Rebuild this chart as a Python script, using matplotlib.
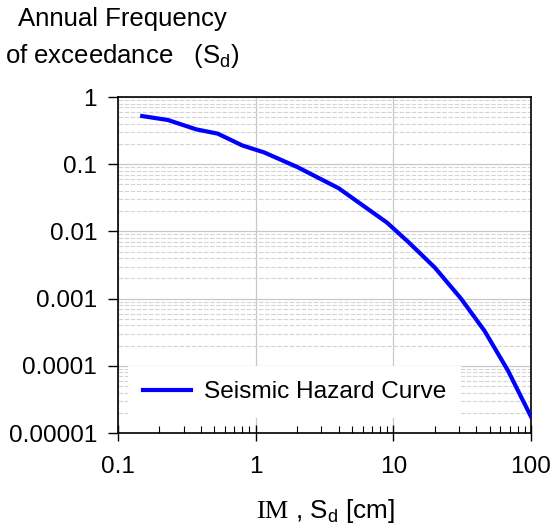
import matplotlib
matplotlib.use('Agg')
import matplotlib.pyplot as plt
from matplotlib.ticker import FixedLocator, FixedFormatter, LogLocator, NullFormatter

plt.rcParams['font.family'] = ['Liberation Sans', 'DejaVu Sans']
plt.rcParams['mathtext.fontset'] = 'custom'
plt.rcParams['mathtext.rm'] = 'Liberation Sans'
plt.rcParams['mathtext.sf'] = 'Liberation Sans'

# hazard curve
sd_cm = [0.15, 0.23, 0.37, 0.53, 0.8, 1.15, 2, 4, 9, 13, 20, 31, 46, 68, 100]
freq = [0.52, 0.455, 0.33, 0.285, 0.19, 0.15, 0.091, 0.044, 0.0135, 0.0068,
        0.0029, 0.001, 0.00033, 8.5e-5, 1.75e-5]

x_ticks = [0.1, 1, 10, 100]
x_labels = ['0.1', '1', '10', '100']
y_ticks = [1e-5, 1e-4, 1e-3, 1e-2, 1e-1, 1]
y_labels = ['0.00001', '0.0001', '0.001', '0.01', '0.1', '1']

fs = 17.6

fig = plt.figure(figsize=(5.53, 5.27), dpi=100)
ax = fig.add_axes([118 / 553, 1 - 433 / 527, 413 / 553, 336 / 527])

ax.plot(sd_cm, freq, color='#0000ff', lw=3, label='Seismic Hazard Curve', zorder=3)

ax.set_xscale('log')
ax.set_yscale('log')
ax.set_xlim(0.1, 100)
ax.set_ylim(1e-5, 1)

ax.xaxis.set_major_locator(FixedLocator(x_ticks))
ax.xaxis.set_major_formatter(FixedFormatter(x_labels))
ax.xaxis.set_minor_locator(LogLocator(base=10, subs=range(2, 10)))
ax.xaxis.set_minor_formatter(NullFormatter())
ax.yaxis.set_major_locator(FixedLocator(y_ticks))
ax.yaxis.set_major_formatter(FixedFormatter(y_labels))
ax.yaxis.set_minor_locator(LogLocator(base=10, subs=range(2, 10)))
ax.yaxis.set_minor_formatter(NullFormatter())

ax.tick_params(axis='x', which='major', direction='inout', length=11, width=1,
               labelsize=fs, pad=11)
ax.tick_params(axis='x', which='minor', direction='in', length=5, width=0.8)
ax.tick_params(axis='y', which='major', direction='out', length=7, width=1,
               labelsize=fs, pad=8)
ax.tick_params(axis='y', which='minor', length=0)

ax.grid(True, which='major', axis='both', color='#c8c8c8', lw=0.9, ls='-')
ax.grid(True, which='minor', axis='y', color='#d4d4d4', lw=0.8, ls=(0, (4, 1.5)))
ax.set_axisbelow(True)
for s in ax.spines.values():
    s.set_linewidth(1.2)

leg = ax.legend(loc='center left', bbox_to_anchor=(0.024, 0.122), fontsize=fs,
                frameon=True, fancybox=False, borderpad=0.6, handlelength=2,
                handletextpad=0.5, borderaxespad=0)
leg.get_frame().set_facecolor('white')
leg.get_frame().set_edgecolor('none')
leg.get_frame().set_alpha(1)

fig.text(122 / 553, 1 - 26 / 527, 'Annual Frequency', ha='center', va='baseline',
         fontsize=18.5)
fig.text(122 / 553, 1 - 63 / 527, r'of exceedance   (S$_{\mathsf{d}}$)', ha='center',
         va='baseline', fontsize=18.5)
fig.text(256 / 553, 1 - 518 / 527, 'IM', ha='left', va='baseline',
         fontsize=19, family='Liberation Serif')
fig.text(395 / 553, 1 - 518 / 527, r', S$_{\mathsf{d}}$ [cm]', ha='right',
         va='baseline', fontsize=18.8)

fig.savefig('out.png', dpi=100)
